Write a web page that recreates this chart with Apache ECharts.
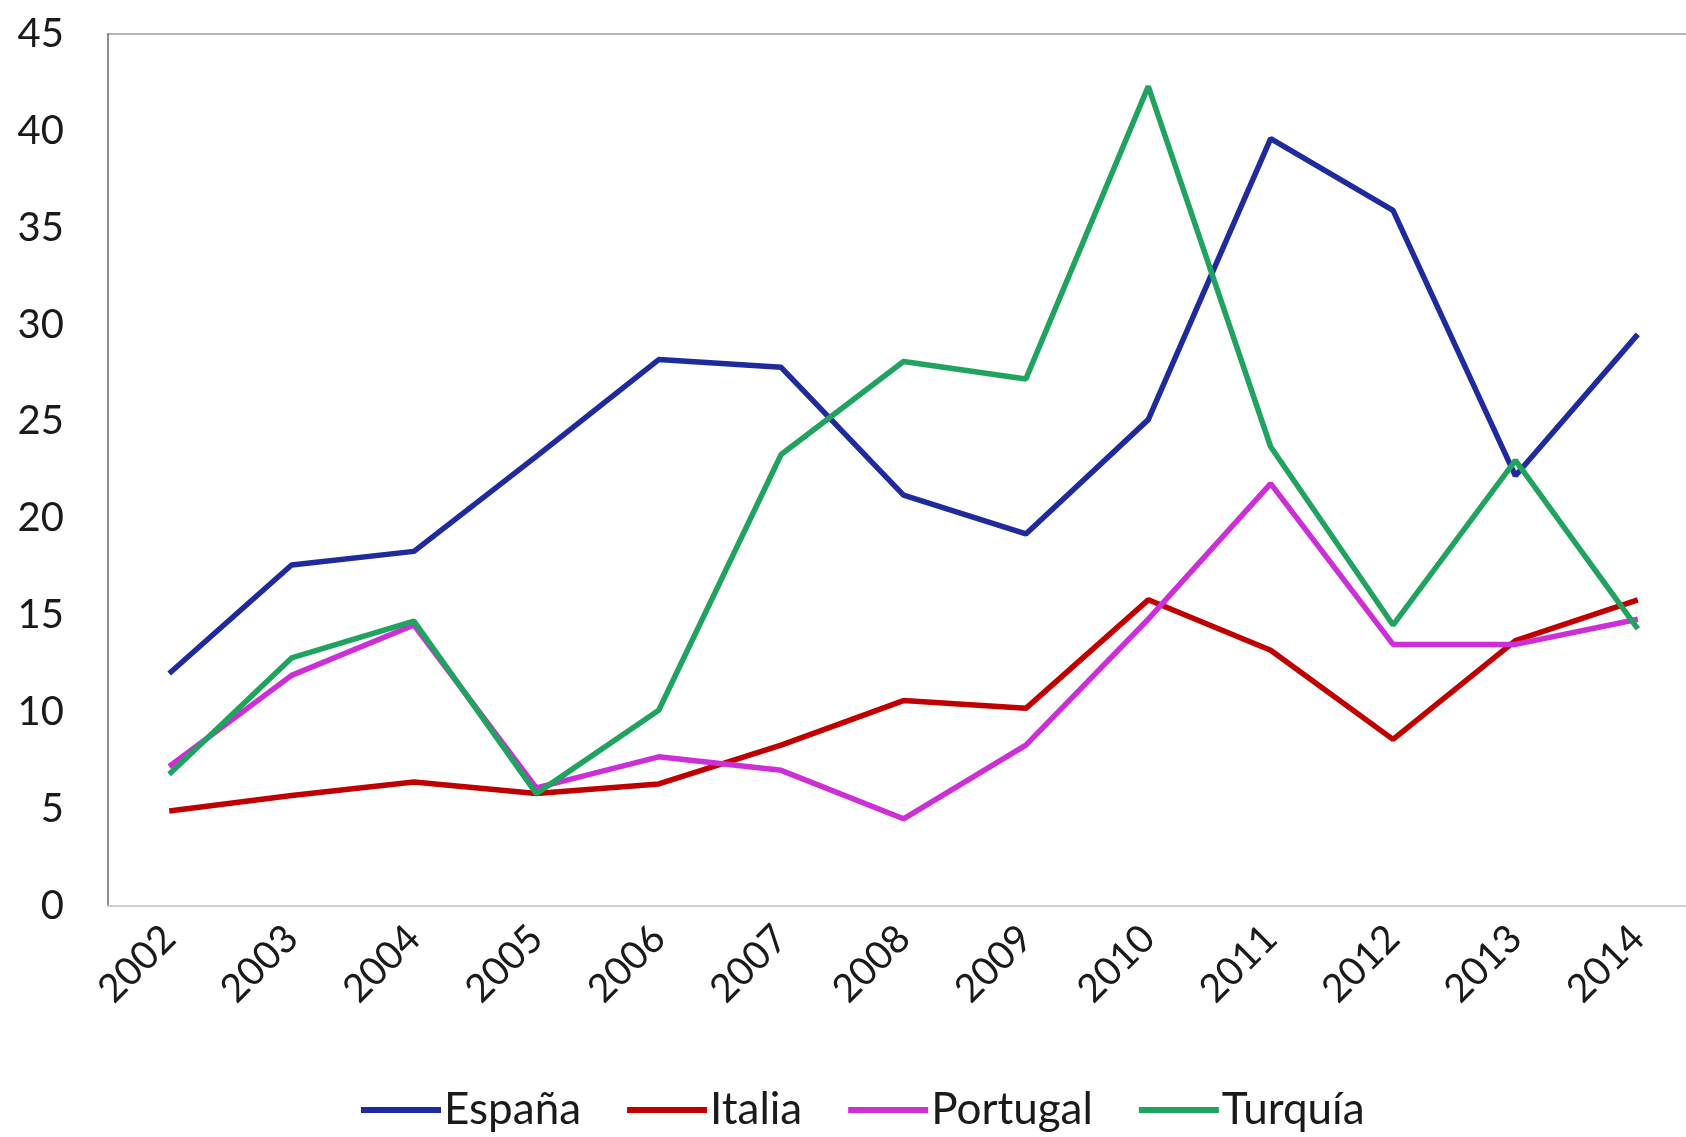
<!DOCTYPE html>
<html>
<head>
<meta charset="utf-8">
<script src="https://cdn.jsdelivr.net/npm/echarts@6/dist/echarts.min.js"></script>
<style>html,body{margin:0;padding:0;background:#fff;}#c{width:1686px;height:1137px;}</style>
</head>
<body>
<div id="c"></div>
<script>
const years = ['2002','2003','2004','2005','2006','2007','2008','2009','2010','2011','2012','2013','2014'];
const espana   = [12.0, 17.6, 18.3, 23.2, 28.2, 27.8, 21.2, 19.2, 25.1, 39.6, 35.9, 22.2, 29.5];
const italia   = [4.9, 5.7, 6.4, 5.8, 6.3, 8.3, 10.6, 10.2, 15.8, 13.2, 8.6, 13.7, 15.8];
const portugal = [7.2, 11.9, 14.5, 6.1, 7.7, 7.0, 4.5, 8.3, 14.8, 21.8, 13.5, 13.5, 14.8];
const turquia  = [6.8, 12.8, 14.7, 5.8, 10.1, 23.3, 28.1, 27.2, 42.3, 23.7, 14.5, 23.0, 14.3];
const seriesNames = ['España', 'Italia', 'Portugal', 'Turquía'];
const colors = ['#1f2a9c', '#c00000', '#cc2fd6', '#1fa35e'];

const chart = echarts.init(document.getElementById('c'), null, {renderer: 'canvas'});
const font = 'Lato, "Open Sans", sans-serif';
const mk = (name, data, color) => ({
  name, type: 'line', data, symbol: 'none', smooth: false,
  lineStyle: {color, width: 5.5}, itemStyle: {color}
});
chart.setOption({
  animation: false,
  backgroundColor: '#fff',
  grid: {left: 108, top: 34, width: 1591, height: 872, outerBoundsMode: 'none', containLabel: false,
         show: true, borderColor: '#b4b4b4', borderWidth: 2, backgroundColor: 'transparent'},
  xAxis: {
    type: 'category', data: years, boundaryGap: true,
    axisLine: {lineStyle: {color: '#d0d0d0', width: 2}},
    axisTick: {show: false},
    axisLabel: {rotate: 45, color: '#1a1a1a', fontSize: 39, fontFamily: font, margin: 26}
  },
  yAxis: {
    type: 'value', min: 0, max: 45, interval: 5,
    splitLine: {show: false},
    axisLine: {show: true, lineStyle: {color: '#8c8c8c', width: 2}},
    axisTick: {show: false},
    axisLabel: {color: '#1a1a1a', fontSize: 40, fontFamily: font, margin: 44}
  },
  legend: {
    bottom: 0, left: 356, itemWidth: 80, itemHeight: 6, itemGap: 46,
    icon: 'rect',
    textStyle: {fontSize: 44, fontFamily: font, color: '#1a1a1a', padding: [0, 0, 0, -2]},
    data: seriesNames
  },
  series: [
    mk(seriesNames[0], espana, colors[0]),
    mk(seriesNames[1], italia, colors[1]),
    mk(seriesNames[2], portugal, colors[2]),
    mk(seriesNames[3], turquia, colors[3])
  ]
});
</script>
</body>
</html>
